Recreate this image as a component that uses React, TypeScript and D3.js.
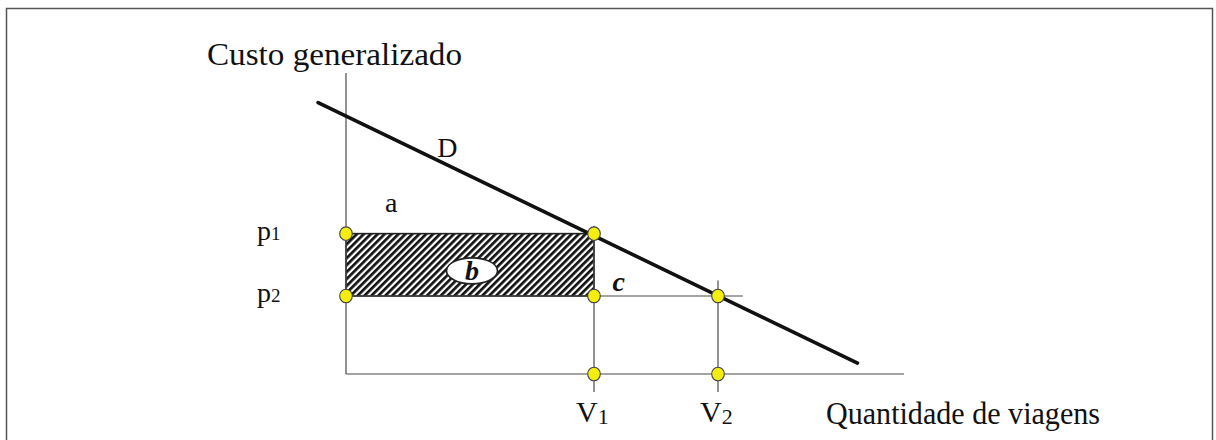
import React from "react";
import * as d3 from "d3";

// ---- data (schematic values) ----
const quantityNames = ["V", "V"];
const quantitySubs = ["1", "2"];
const quantities = [4, 6]; // V1, V2
const priceNames = ["p", "p"];
const priceSubs = ["1", "2"];
const prices = [4.5, 2.5]; // p1, p2
const demandQ = [-0.45, 8.25];
const demandP = [8.7, 0.35];
const axisMaxQ = 9;
const axisMaxP = 9.65;
const areaLabels = ["a", "b", "c"];
const yTitle = "Custo generalizado";
const xTitle = "Quantidade de viagens";
const curveLabel = "D";

const W = 1216;
const H = 440;
const FONT = "'Liberation Serif', 'Times New Roman', serif";

export default function App() {
  const x = d3.scaleLinear().domain([0, axisMaxQ]).range([346, 904]);
  const y = d3.scaleLinear().domain([0, axisMaxP]).range([374, 73]);

  const demandLine = d3
    .line<[number, number]>()
    .x((d) => x(d[0]))
    .y((d) => y(d[1]));
  const demandPts: [number, number][] = demandQ.map((q, i) => [q, demandP[i]]);

  const [V1, V2] = quantities;
  const [p1, p2] = prices;

  const dots: [number, number][] = [
    [0, p1],
    [0, p2],
    [V1, p1],
    [V1, p2],
    [V1, 0],
    [V2, p2],
    [V2, 0],
  ];

  const thin = { stroke: "#4a4a4a", strokeWidth: 1.2 };

  return (
    <svg
      width={W}
      height={H}
      style={{ position: "absolute", left: 0, top: 0, background: "#fff" }}
      fontFamily={FONT}
    >
      <defs>
        <pattern
          id="hatch"
          width={4.9}
          height={4.9}
          patternUnits="userSpaceOnUse"
          patternTransform="rotate(45)"
        >
          <rect x={0} y={0} width={4.9} height={4.9} fill="#fff" />
          <rect x={0} y={0} width={2.7} height={4.9} fill="#111" />
        </pattern>
      </defs>

      {/* frame */}
      <rect x={6.5} y={8.5} width={1206} height={460} fill="none" stroke="#555" strokeWidth={1.5} />

      {/* hatched area b */}
      <rect
        x={x(0)}
        y={y(p1)}
        width={x(V1) - x(0)}
        height={y(p2) - y(p1)}
        fill="url(#hatch)"
        stroke="#222"
        strokeWidth={1.6}
      />

      {/* axes */}
      <line x1={x(0)} x2={x(0)} y1={y(0)} y2={y(axisMaxP)} {...thin} />
      <line x1={x(0)} x2={x(axisMaxQ)} y1={y(0)} y2={y(0)} {...thin} />

      {/* guide lines */}
      <line x1={x(0)} x2={x(6.4)} y1={y(p2)} y2={y(p2)} {...thin} />
      <line x1={x(V1)} x2={x(V1)} y1={y(4.75)} y2={y(-0.58)} {...thin} />
      <line x1={x(V2)} x2={x(V2)} y1={y(3.0)} y2={y(-0.58)} {...thin} />

      {/* demand */}
      <path d={demandLine(demandPts) || ""} fill="none" stroke="#111" strokeWidth={3.6} strokeLinecap="round" />

      {/* dots */}
      {dots.map((d, i) => (
        <ellipse key={i} cx={x(d[0])} cy={y(d[1])} rx={6.3} ry={6.8} fill="#f4ee10" stroke="#444" strokeWidth={1.1} />
      ))}

      {/* b ellipse */}
      <ellipse
        cx={(x(0) + x(V1)) / 2 + 2}
        cy={(y(p1) + y(p2)) / 2 + 6}
        rx={25.5}
        ry={13}
        fill="#fff"
        stroke="#222"
        strokeWidth={1.6}
      />
      <text
        x={(x(0) + x(V1)) / 2 + 2}
        y={(y(p1) + y(p2)) / 2 + 15}
        textAnchor="middle"
        fontSize={28}
        fontWeight="bold"
        fontStyle="italic"
        fill="#111"
      >
        {areaLabels[1]}
      </text>

      {/* a, c, D labels */}
      <text x={x(0.63)} y={y(5.2)} fontSize={28} fill="#111">
        {areaLabels[0]}
      </text>
      <text x={x(4.3)} y={y(2.65)} fontSize={28} fontWeight="bold" fontStyle="italic" fill="#111">
        {areaLabels[2]}
      </text>
      <text x={x(1.47)} y={y(6.95)} fontSize={28} fill="#111">
        {curveLabel}
      </text>

      {/* price labels */}
      {prices.map((p, i) => (
        <text key={i} x={x(0) - 89} y={y(p) + 6} fontSize={28} fill="#111">
          {priceNames[i]}
          <tspan fontSize={19} dy={0}>{priceSubs[i]}</tspan>
        </text>
      ))}

      {/* quantity labels */}
      {quantities.map((q, i) => (
        <text key={i} x={x(q) - 18} y={y(0) + 48} fontSize={30} fill="#111">
          {quantityNames[i]}
          <tspan fontSize={22} dy={2}>{quantitySubs[i]}</tspan>
        </text>
      ))}

      {/* titles */}
      <text x={207} y={65} fontSize={32} fill="#111" textLength={255} lengthAdjust="spacingAndGlyphs">
        {yTitle}
      </text>
      <text x={826} y={424} fontSize={31} fill="#111" textLength={274} lengthAdjust="spacingAndGlyphs">
        {xTitle}
      </text>
    </svg>
  );
}
